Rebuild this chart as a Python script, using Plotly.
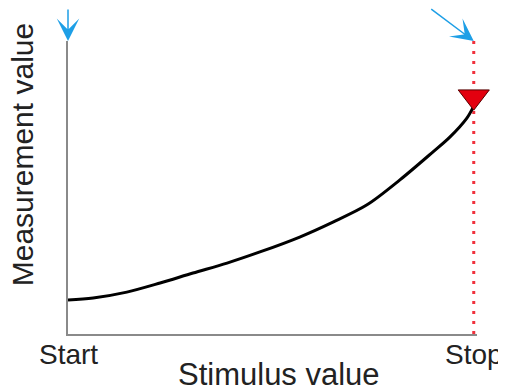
import plotly.graph_objects as go

# Data (stimulus in % of sweep, measurement in % of axis height)
stimulus = [0, 6.2, 14.5, 22.7, 30.8, 39.2, 47.3, 57.1, 65.3, 73.6, 81.8, 89.9, 94.1, 98.3, 100]
measurement = [11.6, 12.3, 14.3, 17.4, 20.8, 24.2, 28.0, 33.1, 38.2, 44.0, 52.6, 62.1, 67.2, 73.7, 77.8]
tick_vals = [0, 100]
tick_text = ["Start", "Stop"]
stop_value = 100
stop_marker_y = 81.0
x_range = [0, 100.8]
y_range = [0, 100]

FONT = "Arial, 'Liberation Sans', sans-serif"
BLUE = "#1e9fe6"
RED = "#f0303c"
TXT = "#222222"

fig = go.Figure()

# dotted stop line
fig.add_trace(go.Scatter(
    x=[stop_value, stop_value], y=y_range, mode="lines",
    line=dict(color=RED, width=3, dash="3px,7px"),
    hoverinfo="skip", showlegend=False, cliponaxis=False))

# response curve
fig.add_trace(go.Scatter(
    x=stimulus, y=measurement, mode="lines",
    line=dict(color="black", width=3, shape="spline", smoothing=0.9),
    showlegend=False, cliponaxis=False))

# stop marker
fig.add_trace(go.Scatter(
    x=[stop_value], y=[stop_marker_y], mode="markers",
    marker=dict(symbol="triangle-down", size=27, color="#e3000f",
                line=dict(color="#5a0000", width=1)),
    showlegend=False, cliponaxis=False))

annotations = [
    dict(text="Stimulus value", xref="paper", yref="paper",
         x=0.517, y=0, yshift=-40, xanchor="center", yanchor="middle",
         showarrow=False, font=dict(size=31, family=FONT, color=TXT)),
    dict(text="Measurement value", xref="paper", yref="paper",
         x=0, xshift=-46, y=0.61, xanchor="center", yanchor="middle",
         textangle=-90, showarrow=False,
         font=dict(size=30, family=FONT, color=TXT)),
    dict(text="", x=0, y=100, xref="x", yref="y", ax=0, ay=-44,
         showarrow=True, arrowhead=3, arrowsize=2.5, arrowwidth=1.5,
         arrowcolor=BLUE),
    dict(text="", x=stop_value, y=100, xref="x", yref="y", ax=-44, ay=-42,
         showarrow=True, arrowhead=3, arrowsize=2.5, arrowwidth=1.5,
         arrowcolor=BLUE),
]
for v, t in zip(tick_vals, tick_text):
    annotations.append(dict(text=t, x=v, xref="x", y=0, yref="paper",
                            yshift=-20, xanchor="center", yanchor="middle",
                            showarrow=False,
                            font=dict(size=28, family=FONT, color=TXT)))

fig.update_layout(
    width=498, height=383,
    margin=dict(l=60, r=29, t=33, b=57),
    paper_bgcolor="white", plot_bgcolor="white",
    font=dict(family=FONT, color=TXT),
    xaxis=dict(range=x_range, showgrid=False, zeroline=False,
               showline=True, linecolor="#8a8a8a", linewidth=2,
               showticklabels=False, ticks="", automargin=False),
    yaxis=dict(range=y_range, showgrid=False, zeroline=False,
               showline=True, linecolor="#8a8a8a", linewidth=2,
               showticklabels=False, ticks="", automargin=False),
    annotations=annotations,
)

fig.write_html("out.html")
